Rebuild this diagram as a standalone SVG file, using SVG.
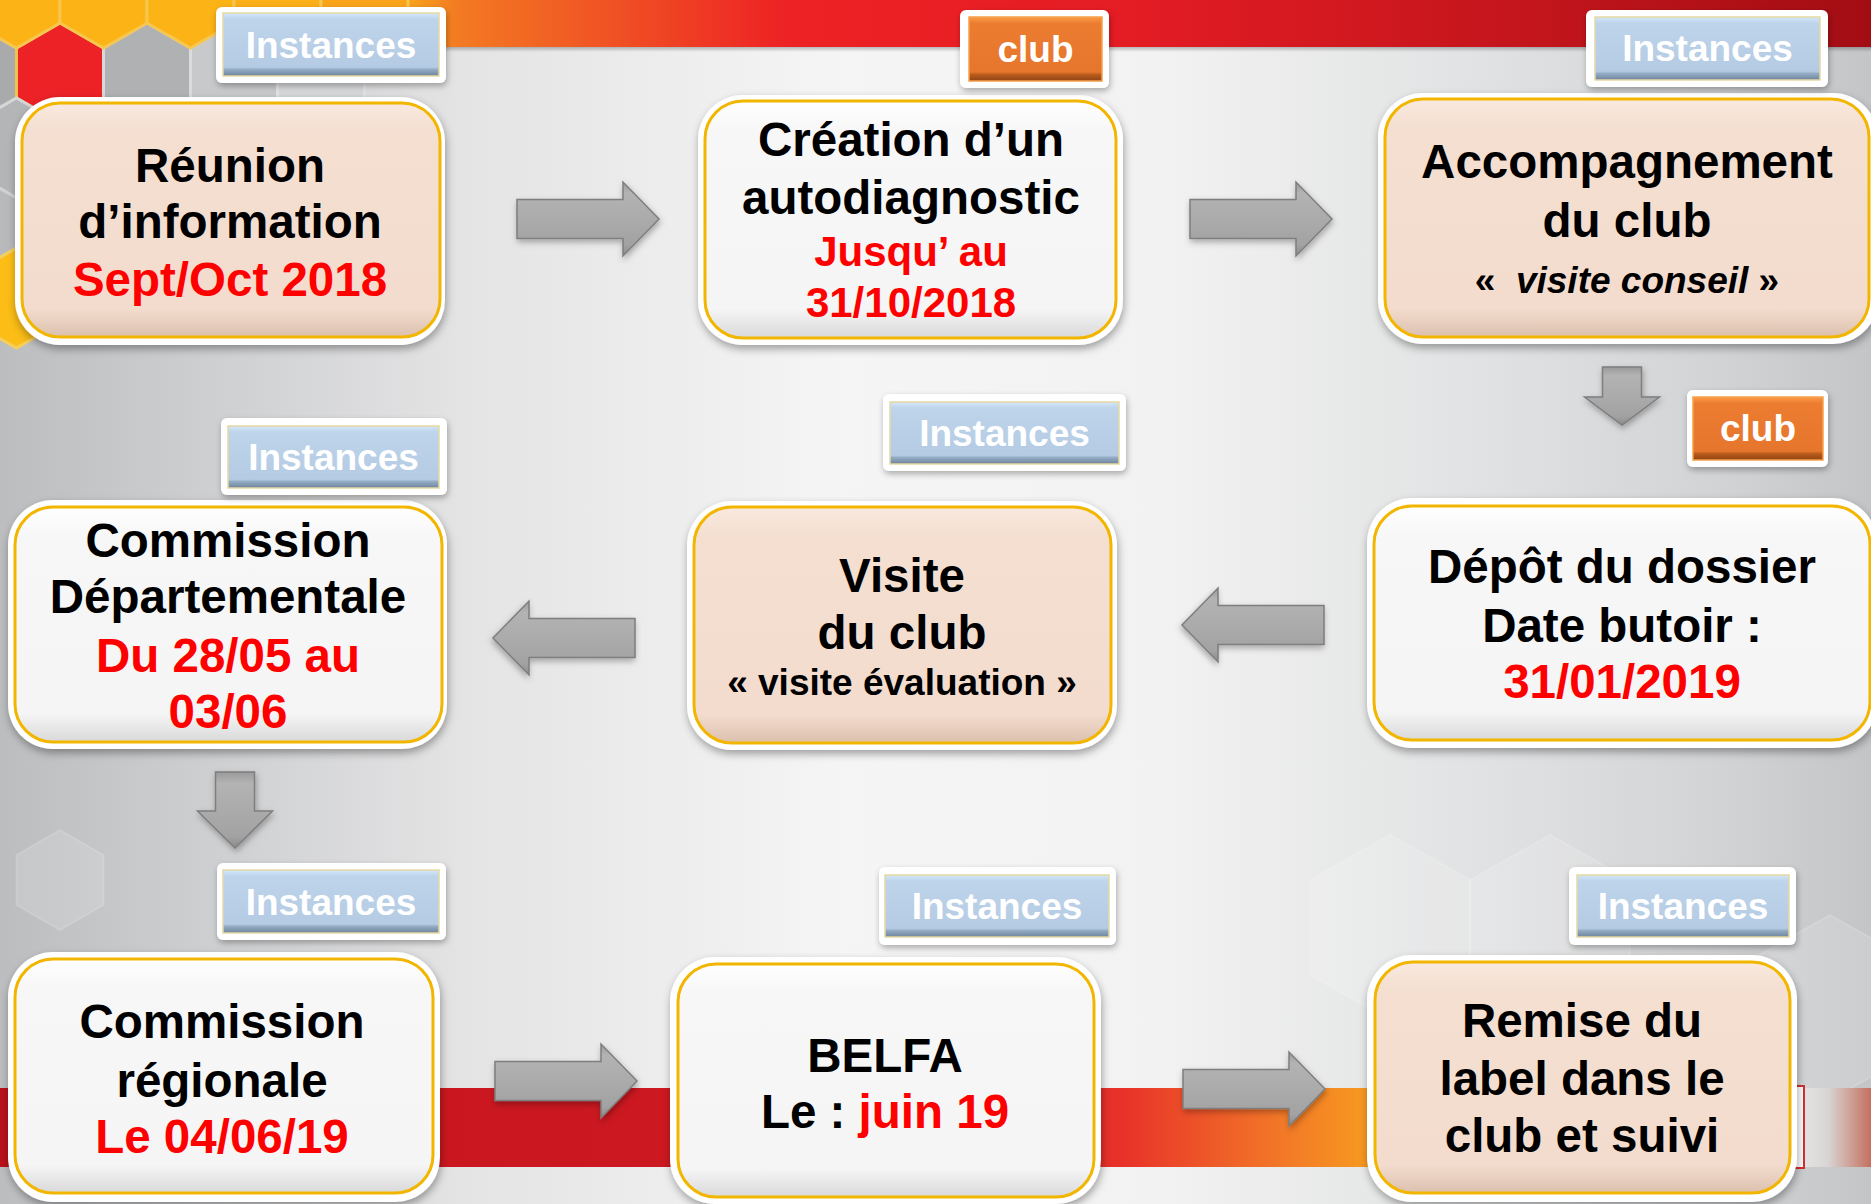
<svg xmlns="http://www.w3.org/2000/svg" xmlns:xlink="http://www.w3.org/1999/xlink" width="1871" height="1204" viewBox="0 0 1871 1204">
<style>
.t{font-family:'Liberation Sans',Arial,Helvetica,sans-serif;font-weight:700;font-size:47.5px;text-anchor:middle;fill:#000}
.r{fill:#ff0000}
.rs{font-size:42px;fill:#ff0000}
.s{font-size:37px}
.tg{font-family:'Liberation Sans',Arial,Helvetica,sans-serif;font-weight:700;font-size:37px;text-anchor:middle;fill:#fff}
.outer{fill:#fff;filter:url(#sh)}
.inW{fill:url(#gW);stroke:#f2b600;stroke-width:3}
.inP{fill:url(#gP);stroke:#f2b600;stroke-width:3}
.tagO{fill:#fff;filter:url(#sh2)}
.tagB{fill:url(#gB);stroke:#e6d9a2;stroke-width:1.5}
.tagC{fill:url(#gC);stroke:#f6a04a;stroke-width:1.5}
.arr{fill:url(#gA);stroke:#7e7e7e;stroke-width:1.5;filter:url(#sh2)}
</style>
<defs>
<filter id="sh" x="-10%" y="-10%" width="120%" height="125%">
<feDropShadow dx="1" dy="4" stdDeviation="4" flood-color="#000" flood-opacity="0.35"/>
</filter>
<filter id="sh2" x="-10%" y="-15%" width="120%" height="140%">
<feDropShadow dx="1" dy="3" stdDeviation="3" flood-color="#000" flood-opacity="0.3"/>
</filter>
<linearGradient id="bgH" x1="0" x2="1" y1="0" y2="0">
<stop offset="0" stop-color="#bcbdbf"/>
<stop offset="0.08" stop-color="#c9cacc"/>
<stop offset="0.25" stop-color="#e4e4e5"/>
<stop offset="0.45" stop-color="#f5f5f5"/>
<stop offset="0.62" stop-color="#f2f2f2"/>
<stop offset="0.8" stop-color="#e0e1e2"/>
<stop offset="0.92" stop-color="#d2d3d5"/>
<stop offset="1" stop-color="#c4c5c7"/>
</linearGradient>
<linearGradient id="bgTop" gradientUnits="userSpaceOnUse" x1="0" y1="0" x2="1871" y2="0">
<stop offset="0" stop-color="#fbb316"/>
<stop offset="0.22" stop-color="#f7a11b"/>
<stop offset="0.245" stop-color="#f37a22"/>
<stop offset="0.33" stop-color="#f05024"/>
<stop offset="0.42" stop-color="#ed2224"/>
<stop offset="0.6" stop-color="#e41c24"/>
<stop offset="0.82" stop-color="#c3151c"/>
<stop offset="1" stop-color="#a20d13"/>
</linearGradient>
<linearGradient id="bgBot" gradientUnits="userSpaceOnUse" x1="0" y1="0" x2="1871" y2="0">
<stop offset="0" stop-color="#b8121a"/>
<stop offset="0.04" stop-color="#c8161e"/>
<stop offset="0.35" stop-color="#cc1820"/>
<stop offset="0.52" stop-color="#d81d22"/>
<stop offset="0.6" stop-color="#e83229"/>
<stop offset="0.68" stop-color="#f27428"/>
<stop offset="0.74" stop-color="#f8a01e"/>
<stop offset="1" stop-color="#f8a01e"/>
</linearGradient>
<linearGradient id="bgBotR" x1="0" x2="1" y1="0" y2="0">
<stop offset="0" stop-color="#e6e6e6"/>
<stop offset="0.4" stop-color="#d8d4d3"/>
<stop offset="1" stop-color="#c4705f"/>
</linearGradient>
<linearGradient id="shTop" x1="0" x2="0" y1="0" y2="1">
<stop offset="0" stop-color="#000" stop-opacity="0.25"/>
<stop offset="1" stop-color="#000" stop-opacity="0"/>
</linearGradient>
<linearGradient id="gW" x1="0" x2="0" y1="0" y2="1">
<stop offset="0" stop-color="#ffffff"/>
<stop offset="0.12" stop-color="#f7f7f7"/>
<stop offset="0.88" stop-color="#f5f5f5"/>
<stop offset="1" stop-color="#d9d9d9"/>
</linearGradient>
<linearGradient id="gP" x1="0" x2="0" y1="0" y2="1">
<stop offset="0" stop-color="#f9e9df"/>
<stop offset="0.12" stop-color="#f4dfd1"/>
<stop offset="0.88" stop-color="#f3dccd"/>
<stop offset="1" stop-color="#dcc0ae"/>
</linearGradient>
<linearGradient id="gB" x1="0" x2="0" y1="0" y2="1">
<stop offset="0" stop-color="#d4e7f9"/>
<stop offset="0.1" stop-color="#bdd4eb"/>
<stop offset="0.86" stop-color="#b4cbe3"/>
<stop offset="0.9" stop-color="#91a9c2"/>
<stop offset="1" stop-color="#6f859c"/>
</linearGradient>
<linearGradient id="gC" x1="0" x2="0" y1="0" y2="1">
<stop offset="0" stop-color="#fb9c48"/>
<stop offset="0.1" stop-color="#eb7c30"/>
<stop offset="0.86" stop-color="#e6762c"/>
<stop offset="0.9" stop-color="#b95b1d"/>
<stop offset="1" stop-color="#8f4413"/>
</linearGradient>
<linearGradient id="gA" x1="0" x2="0" y1="0" y2="1">
<stop offset="0" stop-color="#9a9a9a"/>
<stop offset="0.15" stop-color="#b3b3b3"/>
<stop offset="0.5" stop-color="#ababab"/>
<stop offset="0.85" stop-color="#a2a2a2"/>
<stop offset="1" stop-color="#8a8a8a"/>
</linearGradient>
<polygon id="hex" points="0,-50 43.5,-25 43.5,25 0,50 -43.5,25 -43.5,-25"/>
<path id="arR" d="M0,-19.5 H106 V-37 L142,0 L106,37 V19.5 H0 Z"/>
</defs>

<g id="background">
<rect x="0" y="0" width="1871" height="1204" fill="url(#bgH)"/>
<rect x="0" y="0" width="1871" height="47" fill="url(#bgTop)"/>
<rect x="0" y="47" width="1871" height="5" fill="url(#shTop)"/>
<g stroke-width="3">
<use href="#hex" x="-27" y="73" fill="#a9aaac" stroke="#d6d6d6"/>
<use href="#hex" x="60" y="73" fill="#ec2227" stroke="#f2c24a"/>
<use href="#hex" x="147" y="73" fill="#b0b1b3" stroke="#d8d8d8"/>
<use href="#hex" x="234" y="73" fill="#c8c9cb" stroke="#dcdcdc"/>
<use href="#hex" x="321" y="73" fill="#d6d7d9" stroke="#e2e2e2"/>
<use href="#hex" x="16.5" y="148" fill="#b4b5b7" stroke="#d6d6d6"/>
<use href="#hex" x="-27" y="223" fill="#b8b9bb" stroke="#d2d2d2"/>
<use href="#hex" x="16.5" y="298" fill="#fbbd16" stroke="#f6cf5a"/>
<use href="#hex" x="16.5" y="-2" fill="#fbb316" stroke="#f7c64e"/>
<use href="#hex" x="103.5" y="-2" fill="#fbb316" stroke="#f7c64e"/>
<use href="#hex" x="190.5" y="-2" fill="#fbb316" stroke="#f7c64e"/>
<use href="#hex" x="277.5" y="-2" fill="#fbaf18" stroke="#f7c64e"/>
<use href="#hex" x="364.5" y="-2" fill="#f9a41b" stroke="#f7c64e"/>
</g>
<g fill="#ffffff" fill-opacity="0.14" stroke="#ffffff" stroke-opacity="0.15" stroke-width="2">
<use href="#hex" x="60" y="880"/>
<polygon points="1310,880 1390,835 1470,880 1470,975 1390,1020 1310,975"/>
<polygon points="1470,880 1550,835 1630,880 1630,975 1550,1020 1470,975"/>
<polygon points="1750,960 1830,915 1910,960 1910,1055 1830,1100 1750,1055"/>
</g>
<rect x="0" y="1088" width="1800" height="79" fill="url(#bgBot)"/>
<rect x="1800" y="1088" width="71" height="79" fill="url(#bgBotR)"/>
<rect x="1788" y="1086" width="16" height="82" fill="#ffffff" stroke="#d23232" stroke-width="2"/>
</g>

<g id="connectors">
<use href="#arR" class="arr" transform="translate(517,219)"/>
<use href="#arR" class="arr" transform="translate(1190,219)"/>
<path class="arr" d="M1602.5,367 V397 H1584.5 L1622,425 L1659.5,397 H1641.5 V367 Z"/>
<use href="#arR" class="arr" transform="translate(1324,625) scale(-1,1)"/>
<use href="#arR" class="arr" transform="translate(635,638) scale(-1,1)"/>
<path class="arr" d="M215.5,772 V811 H197.5 L235,848 L272.5,811 H254.5 V772 Z"/>
<use href="#arR" class="arr" transform="translate(495,1081)"/>
<use href="#arR" class="arr" transform="translate(1183,1089)"/>
</g>

<g id="node-reunion">
<rect class="outer" x="15" y="97" width="430" height="248" rx="45"/>
<rect class="inP" x="22" y="103" width="418" height="234" rx="38"/>
<text class="t" x="230" y="182">Réunion</text>
<text class="t" x="230" y="238">d’information</text>
<text class="t r" x="230" y="296">Sept/Oct 2018</text>
</g>
<g id="tag-instances-1">
<rect class="tagO" x="216" y="7" width="230" height="76" rx="6"/>
<rect class="tagB" x="223" y="13" width="216" height="63"/>
<text class="tg" x="331" y="58">Instances</text>
</g>

<g id="node-autodiagnostic">
<rect class="outer" x="698" y="95" width="425" height="250" rx="45"/>
<rect class="inW" x="705" y="101" width="411" height="237" rx="38"/>
<text class="t" x="911" y="156">Création d’un</text>
<text class="t" x="911" y="214">autodiagnostic</text>
<text class="t rs" x="911" y="266">Jusqu’ au</text>
<text class="t rs" x="911" y="317">31/10/2018</text>
</g>
<g id="tag-club-1">
<rect class="tagO" x="960" y="10" width="149" height="78" rx="6"/>
<rect class="tagC" x="969" y="17" width="133" height="64"/>
<text class="tg" x="1035.5" y="62">club</text>
</g>

<g id="node-accompagnement">
<rect class="outer" x="1378" y="93" width="500" height="251" rx="45"/>
<rect class="inP" x="1385" y="99" width="484" height="238" rx="38"/>
<text class="t" x="1627" y="178">Accompagnement</text>
<text class="t" x="1627" y="237">du club</text>
<text class="t s" x="1627" y="293">«&#160; <tspan font-style="italic">visite conseil</tspan> »</text>
</g>
<g id="tag-instances-3">
<rect class="tagO" x="1586" y="10" width="242" height="77" rx="6"/>
<rect class="tagB" x="1595" y="17" width="225" height="63"/>
<text class="tg" x="1707.5" y="61">Instances</text>
</g>

<g id="node-depot">
<rect class="outer" x="1367" y="498" width="510" height="250" rx="45"/>
<rect class="inW" x="1374" y="506" width="496" height="234" rx="38"/>
<text class="t" x="1622" y="583">Dépôt du dossier</text>
<text class="t" x="1622" y="642">Date butoir :</text>
<text class="t r" x="1622" y="698">31/01/2019</text>
</g>
<g id="tag-club-2">
<rect class="tagO" x="1687" y="390" width="141" height="77" rx="6"/>
<rect class="tagC" x="1693" y="397" width="130" height="63"/>
<text class="tg" x="1758" y="441">club</text>
</g>

<g id="node-visite">
<rect class="outer" x="687" y="501" width="430" height="249" rx="45"/>
<rect class="inP" x="694" y="507" width="417" height="236" rx="38"/>
<text class="t" x="902" y="592">Visite</text>
<text class="t" x="902" y="649">du club</text>
<text class="t s" x="902" y="695">« visite évaluation »</text>
</g>
<g id="tag-instances-5">
<rect class="tagO" x="883" y="394" width="243" height="77" rx="6"/>
<rect class="tagB" x="890" y="402" width="229" height="62"/>
<text class="tg" x="1004.5" y="446">Instances</text>
</g>

<g id="node-departementale">
<rect class="outer" x="8" y="500" width="439" height="249" rx="45"/>
<rect class="inW" x="15" y="507" width="427" height="235" rx="38"/>
<text class="t" x="228" y="557">Commission</text>
<text class="t" x="228" y="613">Départementale</text>
<text class="t r" x="228" y="672">Du 28/05 au</text>
<text class="t r" x="228" y="728">03/06</text>
</g>
<g id="tag-instances-4">
<rect class="tagO" x="221" y="418" width="226" height="77" rx="6"/>
<rect class="tagB" x="228" y="426" width="211" height="62"/>
<text class="tg" x="333.5" y="470">Instances</text>
</g>

<g id="node-regionale">
<rect class="outer" x="8" y="952" width="432" height="250" rx="45"/>
<rect class="inW" x="15" y="959" width="418" height="234" rx="38"/>
<text class="t" x="222" y="1038">Commission</text>
<text class="t" x="222" y="1097">régionale</text>
<text class="t r" x="222" y="1153">Le 04/06/19</text>
</g>
<g id="tag-instances-7">
<rect class="tagO" x="217" y="863" width="229" height="77" rx="6"/>
<rect class="tagB" x="223" y="870" width="216" height="63"/>
<text class="tg" x="331" y="915">Instances</text>
</g>

<g id="node-belfa">
<rect class="outer" x="670" y="957" width="431" height="247" rx="45"/>
<rect class="inW" x="678" y="964" width="416" height="233" rx="38"/>
<text class="t" x="885" y="1072">BELFA</text>
<text class="t" x="885" y="1128">Le : <tspan class="r">juin 19</tspan></text>
</g>
<g id="tag-instances-8">
<rect class="tagO" x="879" y="867" width="237" height="78" rx="6"/>
<rect class="tagB" x="885" y="875" width="224" height="62"/>
<text class="tg" x="997" y="919">Instances</text>
</g>

<g id="node-remise">
<rect class="outer" x="1367" y="955" width="430" height="247" rx="45"/>
<rect class="inP" x="1375" y="962" width="415" height="231" rx="38"/>
<text class="t" x="1582" y="1037">Remise du</text>
<text class="t" x="1582" y="1095">label dans le</text>
<text class="t" x="1582" y="1152">club et suivi</text>
</g>
<g id="tag-instances-9">
<rect class="tagO" x="1569" y="867" width="227" height="78" rx="6"/>
<rect class="tagB" x="1577" y="875" width="212" height="62"/>
<text class="tg" x="1683" y="919">Instances</text>
</g>
</svg>
